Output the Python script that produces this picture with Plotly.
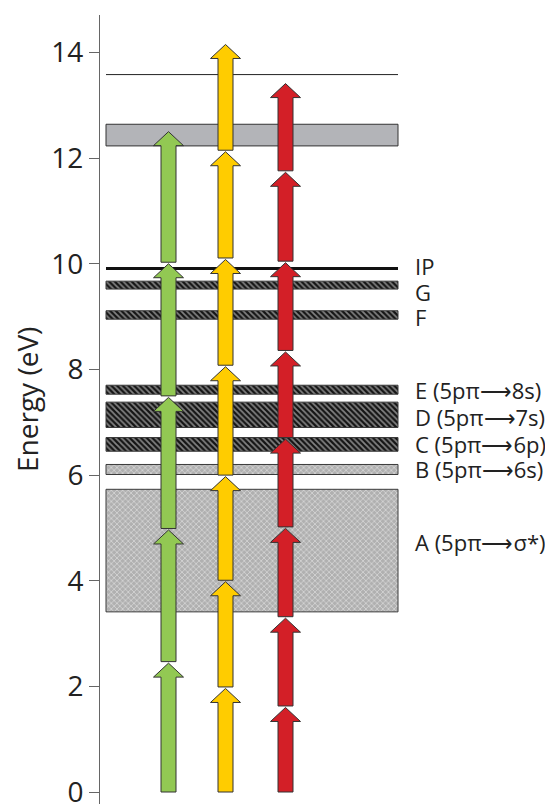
import plotly.graph_objects as go

# ---------------- data ----------------
tick_vals = [0, 2, 4, 6, 8, 10, 12, 14]
tick_text = ["0", "2", "4", "6", "8", "10", "12", "14"]

band_names = ["A (5pπ⟶σ*)", "B (5pπ⟶6s)", "C (5pπ⟶6p)", "D (5pπ⟶7s)", "E (5pπ⟶8s)", "F", "G"]
band_lo = [3.41, 6.01, 6.45, 6.90, 7.53, 8.95, 9.52]
band_hi = [5.73, 6.20, 6.71, 7.38, 7.70, 9.11, 9.67]
band_kind = ["light", "light", "dark", "dark", "dark", "dark", "dark"]

ip_name = "IP"
ip_energy = 9.91

grey_band_lo = 12.23
grey_band_hi = 12.64
top_line_energy = 13.58

green_tips = [2.44, 4.96, 7.47, 10.00, 12.50]
yellow_tips = [1.96, 3.98, 5.97, 8.05, 10.08, 12.12, 14.15]
red_tips = [1.60, 3.29, 4.99, 6.68, 8.33, 10.02, 11.73, 13.41]

# ---------------- layout geometry ----------------
PAGE_W, PAGE_H = 553, 804
BODY = 8  # default page margin of the html body
W, H = PAGE_W - BODY, PAGE_H - BODY
M_L, M_T, M_R, M_B = 100 - BODY, 15 - BODY, 0, 0
plot_w = W - M_L - M_R
plot_h = H - M_T - M_B
y_min, y_max = -0.227, 14.708
px_per_ev = plot_h / (y_max - y_min)

band_x0, band_x1 = 6, 298
label_x = 313
arrow_cols = [(68.5, green_tips, "#92c853"), (125.5, yellow_tips, "#ffcc00"), (185.5, red_tips, "#d31f27")]
label_shift = {"A": 9, "B": 0, "C": 0, "D": -2, "E": 0, "F": -2, "G": -7, "IP": 2}
label_font = dict(family="Open Sans", size=22, color="#222222")

fig = go.Figure()


def rect(x0, x1, y0, y1):
    return [x0, x1, x1, x0, x0], [y0, y0, y1, y1, y0]


# light / dark hatched bands
for name, lo, hi, kind in zip(band_names, band_lo, band_hi, band_kind):
    xs, ys = rect(band_x0, band_x1, lo, hi)
    if kind == "dark":
        patt = dict(shape="\\", bgcolor="#141414", fgcolor="#f0f0f0", size=4, solidity=0.45)
    else:
        patt = dict(shape="x", bgcolor="#b0b0b0", fgcolor="#f4f4f4", size=4, solidity=0.4)
    fig.add_trace(go.Scatter(x=xs, y=ys, mode="lines", fill="toself", fillpattern=patt,
                             fillcolor="rgba(0,0,0,0)",
                             line=dict(color="#3a3a3a", width=1), hoverinfo="skip", showlegend=False))

# grey band
xs, ys = rect(band_x0, band_x1, grey_band_lo, grey_band_hi)
fig.add_trace(go.Scatter(x=xs, y=ys, mode="lines", fill="toself", fillcolor="#b3b4b8",
                         line=dict(color="#333333", width=1), hoverinfo="skip", showlegend=False))

# thin top line and IP line
fig.add_trace(go.Scatter(x=[band_x0, band_x1], y=[top_line_energy, top_line_energy], mode="lines",
                         line=dict(color="#222222", width=1), hoverinfo="skip", showlegend=False))
fig.add_trace(go.Scatter(x=[band_x0, band_x1], y=[ip_energy, ip_energy], mode="lines",
                         line=dict(color="#111111", width=3), hoverinfo="skip", showlegend=False))

# arrows
shaft_half = 7.5
head_half = 15
head_len = 14 / px_per_ev
gap = 1.5 / px_per_ev
for xc, tips, col in arrow_cols:
    base = 0.0
    for i, tip in enumerate(tips):
        b = base if i == 0 else base + gap
        neck = tip - head_len
        xs = [xc - shaft_half, xc - shaft_half, xc - head_half, xc, xc + head_half,
              xc + shaft_half, xc + shaft_half, xc - shaft_half]
        ys = [b, neck, neck, tip, neck, neck, b, b]
        fig.add_trace(go.Scatter(x=xs, y=ys, mode="lines", fill="toself", fillcolor=col,
                                 line=dict(color="#333333", width=1), hoverinfo="skip",
                                 showlegend=False))
        base = tip

# labels
annotations = []
for name, lo, hi in zip(band_names, band_lo, band_hi):
    key = name.split(" ")[0]
    annotations.append(dict(x=label_x, y=(lo + hi) / 2, text=name, xref="x", yref="y",
                            xanchor="left", yanchor="middle", showarrow=False,
                            yshift=label_shift[key], font=label_font))
annotations.append(dict(x=label_x, y=ip_energy, text=ip_name, xref="x", yref="y",
                        xanchor="left", yanchor="middle", showarrow=False,
                        yshift=label_shift["IP"], font=label_font))
title_page_x, title_page_y = 27, 400
annotations.append(dict(x=(title_page_x - 100) / plot_w,
                        y=(PAGE_H - title_page_y) / plot_h,
                        xref="paper", yref="paper",
                        text="Energy (eV)", textangle=-90, showarrow=False,
                        xanchor="center", yanchor="middle",
                        font=dict(family="Open Sans", size=28, color="#222222")))

fig.update_layout(
    width=W, height=H,
    margin=dict(l=M_L, r=M_R, t=M_T, b=M_B, pad=0, autoexpand=False),
    paper_bgcolor="white", plot_bgcolor="white",
    showlegend=False,
    annotations=annotations,
    xaxis=dict(range=[0, plot_w], visible=False, fixedrange=True, automargin=False),
    yaxis=dict(range=[y_min, y_max], tickvals=tick_vals, ticktext=tick_text,
               showgrid=False, zeroline=False, showline=True, linecolor="#666666", linewidth=1,
               ticks="outside", ticklen=10, tickwidth=1, tickcolor="#666666",
               ticklabeloverflow="allow", automargin=False,
               tickfont=dict(family="Open Sans", size=28, color="#222222"),
               fixedrange=True),
)

fig.write_html("out.html")
